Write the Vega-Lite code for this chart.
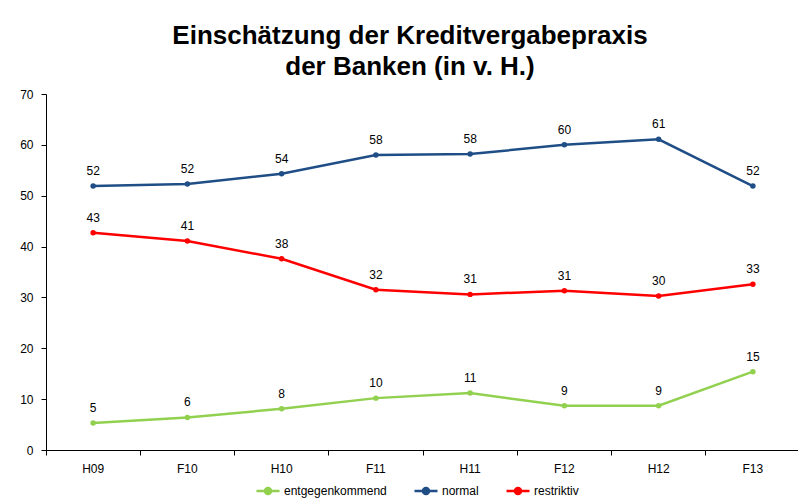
{
  "$schema": "https://vega.github.io/schema/vega-lite/v6.json",
  "width": 754,
  "height": 356,
  "autosize": {"type": "none"},
  "padding": {"left": 46, "top": 94, "right": 0, "bottom": 52},
  "background": "white",
  "title": {
    "text": ["Einschätzung der Kreditvergabepraxis", "der Banken (in v. H.)"],
    "font": "Liberation Sans",
    "fontSize": 26,
    "fontWeight": "bold",
    "color": "black",
    "lineHeight": 31,
    "anchor": "middle",
    "dx": -13,
    "offset": 8
  },
  "data": {
    "values": [
      {"p": "H09", "s": "normal", "v": 51.9},
      {"p": "F10", "s": "normal", "v": 52.3},
      {"p": "H10", "s": "normal", "v": 54.3},
      {"p": "F11", "s": "normal", "v": 58.0},
      {"p": "H11", "s": "normal", "v": 58.2},
      {"p": "F12", "s": "normal", "v": 60.0},
      {"p": "H12", "s": "normal", "v": 61.1},
      {"p": "F13", "s": "normal", "v": 51.9},
      {"p": "H09", "s": "restriktiv", "v": 42.7},
      {"p": "F10", "s": "restriktiv", "v": 41.1},
      {"p": "H10", "s": "restriktiv", "v": 37.6},
      {"p": "F11", "s": "restriktiv", "v": 31.5},
      {"p": "H11", "s": "restriktiv", "v": 30.6},
      {"p": "F12", "s": "restriktiv", "v": 31.3},
      {"p": "H12", "s": "restriktiv", "v": 30.3},
      {"p": "F13", "s": "restriktiv", "v": 32.6},
      {"p": "H09", "s": "entgegenkommend", "v": 5.3},
      {"p": "F10", "s": "entgegenkommend", "v": 6.4},
      {"p": "H10", "s": "entgegenkommend", "v": 8.1},
      {"p": "F11", "s": "entgegenkommend", "v": 10.2},
      {"p": "H11", "s": "entgegenkommend", "v": 11.2},
      {"p": "F12", "s": "entgegenkommend", "v": 8.7},
      {"p": "H12", "s": "entgegenkommend", "v": 8.7},
      {"p": "F13", "s": "entgegenkommend", "v": 15.4}
    ]
  },
  "encoding": {
    "x": {
      "field": "p",
      "type": "ordinal",
      "sort": ["H09", "F10", "H10", "F11", "H11", "F12", "H12", "F13"],
      "scale": {"type": "band", "paddingInner": 0, "paddingOuter": 0},
      "axis": {
        "title": null,
        "labelAngle": 0,
        "bandPosition": 0,
        "labelFont": "Liberation Sans",
        "labelFontSize": 12,
        "labelColor": "black",
        "domainColor": "black",
        "tickColor": "black",
        "tickSize": 5,
        "labelPadding": 8,
        "grid": false
      }
    },
    "y": {
      "field": "v",
      "type": "quantitative",
      "scale": {"domain": [0, 70]},
      "axis": {
        "title": null,
        "values": [0, 10, 20, 30, 40, 50, 60, 70],
        "labelFont": "Liberation Sans",
        "labelFontSize": 12,
        "labelColor": "black",
        "domainColor": "black",
        "tickColor": "black",
        "tickSize": 5,
        "labelPadding": 8,
        "grid": false
      }
    }
  },
  "layer": [
    {
      "mark": {"type": "line", "strokeWidth": 2.5, "point": {"filled": true, "size": 30, "opacity": 1}},
      "encoding": {
        "color": {
          "field": "s",
          "type": "nominal",
          "scale": {
            "domain": ["entgegenkommend", "normal", "restriktiv"],
            "range": ["#92D050", "#1F4E86", "#FF0000"]
          },
          "legend": {
            "title": null,
            "orient": "none",
            "direction": "horizontal",
            "legendX": 209,
            "legendY": 384,
            "padding": 0,
            "symbolType": "M-1,0H1M0.26,0A0.26,0.26,0,1,1,-0.26,0A0.26,0.26,0,1,1,0.26,0Z",
            "symbolSize": 529,
            "symbolStrokeWidth": 2.5,
            "labelFont": "Liberation Sans",
            "labelFontSize": 12,
            "labelColor": "black",
            "labelOffset": 3,
            "columnPadding": 22,
            "encode": {
              "symbols": {
                "update": {
                  "fill": {"scale": "color", "field": "value"},
                  "stroke": {"scale": "color", "field": "value"},
                  "opacity": {"value": 1}
                }
              }
            }
          }
        }
      }
    },
    {
      "mark": {"type": "text", "dy": -15, "font": "Liberation Sans", "fontSize": 12, "color": "black"},
      "encoding": {"text": {"field": "v", "type": "quantitative", "format": ".0f"}}
    }
  ],
  "config": {"view": {"stroke": null}}
}
